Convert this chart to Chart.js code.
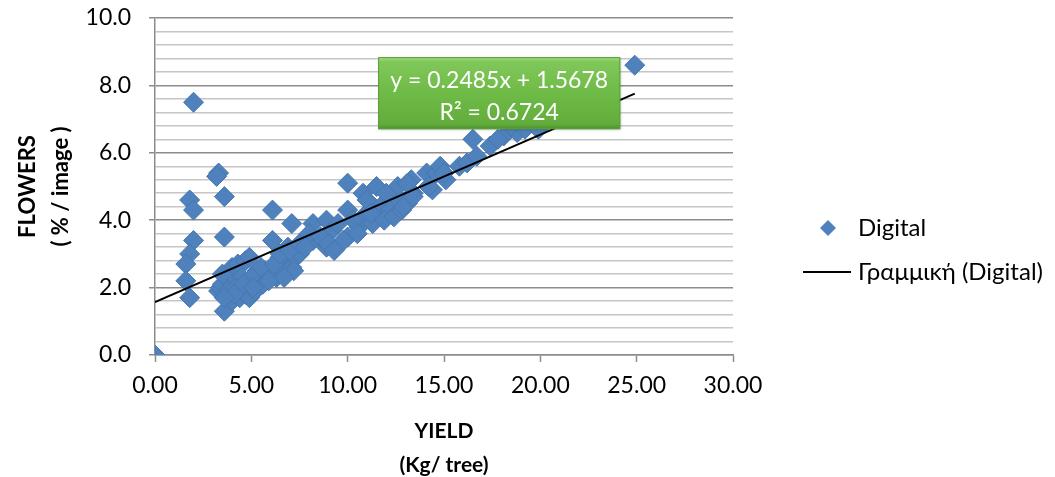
<!DOCTYPE html>
<html>
<head>
<meta charset="utf-8">
<script src="https://cdn.jsdelivr.net/npm/chart.js@4.4.1/dist/chart.umd.min.js"></script>
<style>
  html, body { margin: 0; padding: 0; background: #ffffff; }
  #wrap { width: 1055px; height: 477px; }
</style>
</head>
<body>
<div id="wrap"><canvas id="chart" width="1055" height="477"></canvas></div>
<script>
// Yield per tree (kg) and flower coverage (% of image) for each sampled tree
const yieldKg = [
  0.0, 2.0, 1.8, 2.0, 3.3, 3.2, 3.6, 2.0, 3.6, 1.8, 1.6, 1.6, 1.8, 3.6, 6.1, 6.1, 7.1, 10.0,
  3.3, 3.4, 3.5, 3.7, 4.0, 4.3, 4.7, 4.9, 4.0, 4.4, 4.7, 4.9, 5.2, 5.6, 5.3, 5.7, 6.0, 6.3,
  6.6, 6.8, 6.5, 7.1, 7.3, 7.5, 3.9, 4.5, 5.0, 3.8, 4.2, 5.5, 6.2, 6.9, 7.2, 6.5, 7.0, 3.5,
  4.6, 5.1, 5.9, 4.1, 3.6, 6.7,
  7.5, 8.2, 8.2, 8.9, 8.9, 9.2, 10.0, 10.0, 10.6, 10.8, 10.8, 11.3, 11.5, 11.7, 12.2, 12.6,
  12.6, 13.1, 13.3, 13.4, 8.0, 8.6, 9.5, 9.8, 10.3, 11.0, 11.2, 11.9, 12.0, 12.4, 12.8, 9.0,
  7.8, 9.3, 10.5,
  14.1, 13.1, 12.9, 13.4, 14.4, 14.6, 14.8, 15.1, 15.8, 16.2, 16.7, 16.5, 17.4, 18.1, 18.8,
  19.2, 19.9, 14.2, 15.0, 17.8, 18.5,
  24.9
];
const flowersPct = [
  0.0, 7.5, 4.6, 4.3, 5.4, 5.3, 4.7, 3.4, 3.5, 3.0, 2.7, 2.2, 1.7, 1.3, 4.3, 3.4, 3.9, 5.1,
  1.9, 2.0, 2.1, 2.3, 2.6, 2.7, 2.8, 2.9, 1.6, 1.7, 1.8, 1.7, 1.9, 2.1, 2.5, 2.5, 2.4, 2.3,
  2.5, 2.8, 2.9, 2.6, 2.9, 3.0, 2.2, 2.3, 2.3, 1.9, 2.0, 2.6, 2.7, 3.2, 2.5, 3.0, 3.1, 2.4,
  2.1, 2.0, 2.2, 1.8, 1.7, 2.3,
  3.3, 3.4, 3.9, 4.0, 3.2, 3.7, 3.5, 4.3, 3.8, 4.1, 4.8, 3.9, 5.0, 4.4, 4.3, 4.7,
  5.0, 4.5, 5.2, 4.8, 3.6, 3.5, 3.9, 3.4, 4.0, 4.6, 4.2, 4.0, 4.8, 4.1, 4.3, 3.3,
  3.2, 3.1, 3.6,
  5.4, 5.1, 4.4, 4.7, 4.9, 5.4, 5.6, 5.2, 5.6, 5.7, 5.9, 6.4, 6.2, 6.5, 6.6,
  6.7, 6.7, 5.0, 5.4, 6.4, 6.8,
  8.6
];

const seriesName = 'Digital';
const trendName = 'Γραμμική (Digital)';
const xTitle = ['YIELD', '(Kg/ tree)'];
const yTitle = ['FLOWERS', '( % / image )'];

// Linear least-squares fit reported for the series
const trendSlope = 0.2485;
const trendIntercept = 1.5678;
const trendR2 = 0.6724;

const xTickStep = 5;
const yMajorStep = 2;
const yMinorStep = 0.4;

const BLUE = '#4f81bd';
const AXIS_GREY = '#8c8c8c';
const MINOR_GREY = '#c6c6c6';
const FONT = 'Lato, "Open Sans", sans-serif';

const points = yieldKg.map((x, i) => ({ x, y: flowersPct[i] }));
const xMaxData = Math.max(...yieldKg);
const trendPoints = [
  { x: 0, y: trendIntercept },
  { x: xMaxData, y: trendSlope * xMaxData + trendIntercept }
];

const isMajorY = v => Math.abs(v / yMajorStep - Math.round(v / yMajorStep)) < 1e-6;

// Green equation label and the legend on the right
const annotations = {
  id: 'annotations',
  afterDatasetsDraw(chart) {
    const { ctx, chartArea: ca } = chart;
    const w = ca.right - ca.left, h = ca.bottom - ca.top;
    const bx = ca.left + w * 0.386, by = ca.top + h * 0.116;
    const bw = w * 0.419, bh = h * 0.214;
    ctx.save();
    ctx.shadowColor = 'rgba(0,0,0,0.25)';
    ctx.shadowBlur = 3;
    ctx.shadowOffsetX = 1;
    ctx.shadowOffsetY = 1;
    const g = ctx.createLinearGradient(0, by, 0, by + bh);
    g.addColorStop(0, '#a3da7c');
    g.addColorStop(0.07, '#80c759');
    g.addColorStop(0.5, '#6fbb47');
    g.addColorStop(0.93, '#62ad3c');
    g.addColorStop(1, '#4b8f2d');
    ctx.fillStyle = g;
    ctx.fillRect(bx, by, bw, bh);
    ctx.shadowColor = 'transparent';
    ctx.strokeStyle = '#5c9f39';
    ctx.lineWidth = 1;
    ctx.strokeRect(bx + 0.5, by + 0.5, bw - 1, bh - 1);
    ctx.fillStyle = '#ffffff';
    ctx.font = '23px ' + FONT;
    ctx.textAlign = 'center';
    ctx.textBaseline = 'middle';
    const cx = bx + bw / 2;
    ctx.fillText('y = ' + trendSlope.toFixed(4) + 'x + ' + trendIntercept.toFixed(4), cx, by + bh * 0.32);
    ctx.fillText('R² = ' + trendR2.toFixed(4), cx, by + bh * 0.77);
    ctx.restore();

    // legend
    const lx = ca.right + 95, ly1 = ca.top + h * 0.623, ly2 = ca.top + h * 0.754;
    ctx.save();
    ctx.fillStyle = BLUE;
    ctx.beginPath();
    const r = 8;
    ctx.moveTo(lx, ly1 - r); ctx.lineTo(lx + r, ly1); ctx.lineTo(lx, ly1 + r); ctx.lineTo(lx - r, ly1);
    ctx.closePath();
    ctx.fill();
    ctx.strokeStyle = '#000000';
    ctx.lineWidth = 2;
    ctx.beginPath();
    ctx.moveTo(lx - 25, ly2); ctx.lineTo(lx + 23, ly2);
    ctx.stroke();
    ctx.fillStyle = '#000000';
    ctx.font = '24px ' + FONT;
    ctx.textAlign = 'left';
    ctx.textBaseline = 'middle';
    ctx.fillText(seriesName, lx + 30, ly1);
    ctx.fillText(trendName, lx + 30, ly2);
    ctx.restore();
  }
};

new Chart(document.getElementById('chart'), {
  type: 'scatter',
  data: {
    datasets: [
      {
        type: 'line',
        label: trendName,
        data: trendPoints,
        borderColor: '#000000',
        borderWidth: 2,
        pointRadius: 0,
        fill: false,
        order: 0
      },
      {
        label: seriesName,
        data: points,
        pointStyle: 'rectRot',
        pointRadius: 10,
        pointHoverRadius: 10,
        backgroundColor: BLUE,
        borderColor: '#4677b0',
        borderWidth: 1,
        order: 1
      }
    ]
  },
  options: {
    responsive: false,
    animation: false,
    events: [],
    layout: { padding: { left: 0, right: 322, top: 18, bottom: 0 } },
    plugins: { legend: { display: false }, tooltip: { enabled: false } },
    scales: {
      x: {
        type: 'linear',
        min: 0, max: 30,
        afterFit(scale) { scale.height = 122; scale.paddingLeft = 0; scale.paddingRight = 0; },
        ticks: {
          stepSize: xTickStep,
          color: '#000000',
          font: { family: FONT, size: 23 },
          padding: 10,
          callback: v => v.toFixed(2)
        },
        grid: { drawOnChartArea: false, drawTicks: true, tickLength: 7, tickColor: AXIS_GREY, tickWidth: 1.5 },
        border: { display: true, color: AXIS_GREY, width: 1.5 },
        title: {
          display: true,
          text: xTitle,
          color: '#000000',
          font: { family: FONT, size: 21, weight: 'bold', lineHeight: 1.6 },
          padding: { top: 0, bottom: -5 }
        }
      },
      y: {
        type: 'linear',
        min: 0, max: 10,
        afterFit(scale) { scale.width = 155; scale.paddingTop = 0; scale.paddingBottom = 0; },
        ticks: {
          stepSize: yMinorStep,
          autoSkip: false,
          color: '#000000',
          font: { family: FONT, size: 23 },
          padding: 18,
          callback: v => isMajorY(v) ? Number(v).toFixed(1) : ''
        },
        grid: {
          drawTicks: true,
          tickLength: 6,
          color: ctx => (ctx.tick && isMajorY(ctx.tick.value)) ? AXIS_GREY : MINOR_GREY,
          tickColor: ctx => (ctx.tick && isMajorY(ctx.tick.value)) ? AXIS_GREY : 'rgba(0,0,0,0)',
          lineWidth: 1.5
        },
        border: { display: true, color: AXIS_GREY, width: 1.5 },
        title: {
          display: true,
          text: yTitle,
          color: '#000000',
          font: { family: FONT, size: 22, weight: 'bold', lineHeight: 1.5 },
          padding: { top: 11, bottom: 0 }
        }
      }
    }
  },
  plugins: [annotations]
});
</script>
</body>
</html>
